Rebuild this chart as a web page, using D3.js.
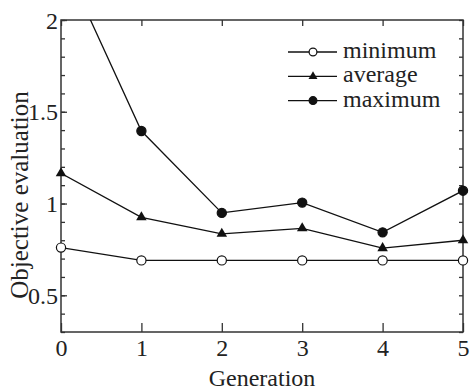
<!DOCTYPE html>
<html>
<head>
<meta charset="utf-8">
<script src="https://cdn.jsdelivr.net/npm/d3@7"></script>
<style>
  body { margin: 0; background: #fff; }
  svg text { font-family: "Liberation Serif", "Times New Roman", serif; fill: #222; }
</style>
</head>
<body>
<div id="chart"></div>
<script>
const generations = [0, 1, 2, 3, 4, 5];
const minimum = [0.76, 0.69, 0.69, 0.69, 0.69, 0.69];
const average = [1.165, 0.925, 0.835, 0.865, 0.757, 0.80];
const maximum = [2.35, 1.395, 0.949, 1.005, 0.843, 1.07];
const yMajorTicks = [0.5, 1, 1.5, 2];
const yTickLabels = ["0.5", "1", "1.5", "2"];
const yMinorTicks = [0.3, 0.4, 0.5, 0.6, 0.7, 0.8, 0.9, 1.0, 1.1, 1.2, 1.3, 1.4, 1.5, 1.6, 1.7, 1.8, 1.9, 2.0];
const seriesNames = ["minimum", "average", "maximum"];

const margin = {top: 20, right: 7, bottom: 59, left: 61},
  width = 470 - margin.left - margin.right,
  height = 391 - margin.top - margin.bottom;

const svg = d3.select("#chart")
  .append("svg")
    .attr("width", 470)
    .attr("height", 391)
  .append("g")
    .attr("transform", `translate(${margin.left},${margin.top})`);

const x = d3.scaleLinear().domain([0, 5]).range([0, width]);
const y = d3.scaleLinear().domain([0.3, 2]).range([height, 0]);

const axisColor = "#333";

function styleAxis(g) {
  g.select(".domain").remove();
  g.selectAll("line").attr("stroke", axisColor).attr("stroke-width", 1.3);
  g.selectAll("text").style("font-size", "24px").attr("fill", "#222");
}

// left axis: minor + major ticks pointing inward
svg.append("g")
  .call(d3.axisLeft(y).tickValues(yMinorTicks).tickSize(-4).tickFormat(""))
  .call(styleAxis);
svg.append("g")
  .call(d3.axisLeft(y).tickValues(yMajorTicks).tickSize(-6).tickPadding(3)
    .tickFormat((d, i) => yTickLabels[i]))
  .call(styleAxis)
  .call(g => g.selectAll("text").attr("dy", "0.34em"));

// right axis
svg.append("g")
  .attr("transform", `translate(${width},0)`)
  .call(d3.axisRight(y).tickValues(yMinorTicks).tickSize(-4).tickFormat(""))
  .call(styleAxis);

// bottom axis
svg.append("g")
  .attr("transform", `translate(0,${height})`)
  .call(d3.axisBottom(x).tickValues(generations).tickSize(-9).tickPadding(7).tickFormat(d3.format("d")))
  .call(styleAxis)
  .call(g => g.selectAll("text").attr("dy", "0.71em"));

// top axis
svg.append("g")
  .call(d3.axisTop(x).tickValues(generations).tickSize(-6).tickFormat(""))
  .call(styleAxis);

// frame
svg.append("rect")
  .attr("width", width)
  .attr("height", height)
  .attr("fill", "none")
  .attr("stroke", axisColor)
  .attr("stroke-width", 1.5);

svg.append("clipPath").attr("id", "plotclip")
  .append("rect").attr("width", width).attr("height", height);

const line = d3.line()
  .x((d, i) => x(generations[i]))
  .y(d => y(d));

const series = [minimum, average, maximum];

svg.append("g").attr("clip-path", "url(#plotclip)")
  .selectAll("path")
  .data(series)
  .join("path")
    .attr("d", d => line(d))
    .attr("fill", "none")
    .attr("stroke", "#111")
    .attr("stroke-width", 1.3);

function drawMarker(g, k, cx, cy, scale) {
  if (k === 1) {
    g.append("path")
      .attr("d", d3.symbol(d3.symbolTriangle, 48 * scale * scale)())
      .attr("transform", `translate(${cx},${cy})`)
      .attr("fill", "#111");
  } else {
    g.append("circle")
      .attr("cx", cx).attr("cy", cy).attr("r", 4.6 * scale)
      .attr("fill", k === 0 ? "#fff" : "#111")
      .attr("stroke", "#111")
      .attr("stroke-width", 1.2);
  }
}

const marks = svg.append("g");
series.forEach((s, k) => {
  s.forEach((v, i) => {
    if (v <= 2) drawMarker(marks, k, x(generations[i]), y(v), 1);
  });
});

// legend
const legend = svg.append("g").attr("transform", `translate(${288 - margin.left},${52 - margin.top})`);
seriesNames.forEach((name, k) => {
  const ly = k * 24.3;
  legend.append("line")
    .attr("x1", 0).attr("x2", 49)
    .attr("y1", ly).attr("y2", ly)
    .attr("stroke", "#111").attr("stroke-width", 1.3);
  drawMarker(legend, k, 25, ly, 0.85);
  legend.append("text")
    .attr("x", 55).attr("y", ly + 6)
    .style("font-size", "24px")
    .text(name);
});

// axis titles
svg.append("text")
  .attr("x", width / 2)
  .attr("y", height + 54)
  .attr("text-anchor", "middle")
  .style("font-size", "24px")
  .text("Generation");

svg.append("text")
  .attr("transform", `translate(${28 - margin.left},${195 - margin.top}) rotate(-90)`)
  .attr("text-anchor", "middle")
  .style("font-size", "25px")
  .text("Objective evaluation");
</script>
</body>
</html>
